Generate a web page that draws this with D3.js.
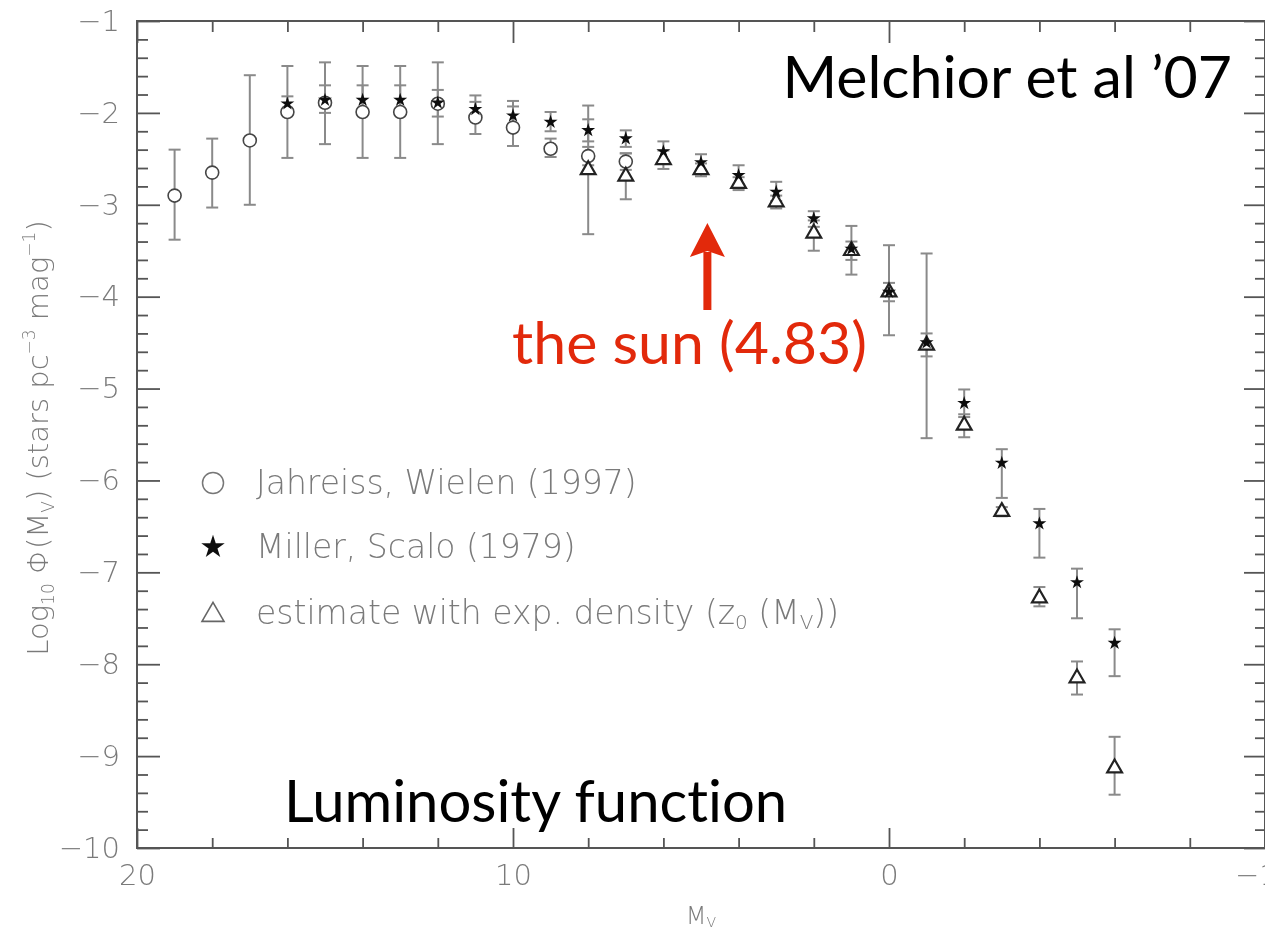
<!DOCTYPE html>
<html>
<head>
<meta charset="utf-8">
<script src="https://cdn.jsdelivr.net/npm/d3@7/dist/d3.min.js"></script>
<style>
  html, body { margin: 0; padding: 0; background: #fff; }
  svg { display: block; }
  .plotfont { font-family: "DejaVu Sans", sans-serif; font-weight: 200; }
  .slide { font-family: "Gill Sans", Lato, sans-serif; font-variant-ligatures: none; font-feature-settings: "liga" 0; }
</style>
</head>
<body>
<svg id="chart" width="1265" height="935"></svg>
<script>
// Absolute visual magnitude bins and log10 luminosity function, per source
const jwMag = [19, 18, 17, 16, 15, 14, 13, 12, 11, 10, 9, 8, 7];
const jwLog = [-2.90, -2.65, -2.30, -1.99, -1.89, -1.99, -1.99, -1.90, -2.05, -2.16, -2.39, -2.47, -2.53];
const jwHi  = [-2.40, -2.28, -1.59, -1.49, -1.45, -1.49, -1.49, -1.45, -1.81, -1.87, -2.28, -2.37, -2.44];
const jwLo  = [-3.38, -3.03, -3.00, -2.49, -2.34, -2.49, -2.49, -2.34, -2.23, -2.36, -2.48, -2.57, -2.62];

const msMag = [16, 15, 14, 13, 12, 11, 10, 9, 8, 7, 6, 5, 4, 3, 2, 1, 0, -1, -2, -3, -4, -5, -6];
const msLog = [-1.90, -1.86, -1.86, -1.86, -1.89, -1.96, -2.03, -2.10, -2.19, -2.28, -2.42, -2.54, -2.68, -2.86, -3.15, -3.48, -3.95, -4.50, -5.16, -5.81, -6.47, -7.11, -7.77];
const msHi  = [-1.82, -1.70, -1.70, -1.70, -1.75, -1.88, -1.93, -1.99, -2.07, -2.19, -2.31, -2.45, -2.57, -2.75, -3.07, -3.23, -3.44, -3.53, -5.01, -5.66, -6.31, -6.96, -7.62];
const msLo  = [-1.98, -2.00, -2.00, -2.00, -2.04, -2.04, -2.12, -2.20, -2.31, -2.37, -2.52, -2.62, -2.78, -2.96, -3.24, -3.76, -4.42, -5.54, -5.31, -6.19, -6.84, -7.50, -8.13];

const exMag = [8, 7, 6, 5, 4, 3, 2, 1, 0, -1, -2, -3, -4, -5, -6];
const exLog = [-2.62, -2.69, -2.51, -2.62, -2.77, -2.97, -3.31, -3.50, -3.95, -4.53, -5.40, -6.34, -7.28, -8.15, -9.13];
const exHi  = [-1.92, -2.44, -2.41, -2.55, -2.70, -2.90, -3.17, -3.40, -3.85, -4.40, -5.28, -6.29, -7.16, -7.97, -8.79];
const exLo  = [-3.32, -2.94, -2.61, -2.69, -2.84, -3.04, -3.50, -3.60, -4.05, -4.65, -5.53, -6.39, -7.37, -8.33, -9.42];

// Axis ticks
const xMajor = [20, 10, 0, -10];
const xMinor = [18, 16, 14, 12, 8, 6, 4, 2, -2, -4, -6, -8];
const yMajor = [-1, -2, -3, -4, -5, -6, -7, -8, -9, -10];
const yMinor = d3.range(-10, -1, 0.2).map(v => +v.toFixed(1)).filter(v => !Number.isInteger(v));

// Legend entries
const legendLabels = ["Jahreiss, Wielen (1997)", "Miller, Scalo (1979)", "estimate with exp. density"];
const sunMag = 4.83;

const svg = d3.select("#chart");
const plotLeft = 137, plotRight = 1265, plotTop = 21, plotBottom = 848;

const x = d3.scaleLinear().domain([20, -10]).range([plotLeft, plotRight]);
const y = d3.scaleLinear().domain([-1, -10]).range([plotTop, plotBottom]);

const defs = svg.append("defs");
defs.append("filter").attr("id", "soft")
  .attr("x", "-5%").attr("y", "-5%").attr("width", "110%").attr("height", "110%")
  .append("feGaussianBlur").attr("stdDeviation", 0.6);

const plot = svg.append("g").attr("class", "plotfont").attr("filter", "url(#soft)");

const axisColor = "#555";
const labelColor = "#7a7a7a";
const fmt = d => d3.format("d")(d);

// frame
plot.append("rect")
  .attr("x", plotLeft).attr("y", plotTop)
  .attr("width", plotRight - plotLeft).attr("height", plotBottom - plotTop)
  .attr("fill", "none").attr("stroke", axisColor).attr("stroke-width", 2);

function styleAxis(g) {
  g.select(".domain").remove();
  g.selectAll(".tick line").attr("stroke", axisColor).attr("stroke-width", 1.8);
  g.selectAll(".tick text").attr("fill", labelColor).attr("font-size", 29)
    .attr("font-family", "DejaVu Sans, sans-serif").attr("font-weight", 200);
}

// left axis
plot.append("g").attr("transform", `translate(${plotLeft},0)`)
  .call(d3.axisLeft(y).tickValues(yMajor).tickSizeInner(-23).tickSizeOuter(0).tickPadding(17).tickFormat(fmt))
  .call(styleAxis);
plot.append("g").attr("transform", `translate(${plotLeft},0)`)
  .call(d3.axisLeft(y).tickValues(yMinor).tickSizeInner(-11).tickSizeOuter(0).tickFormat(""))
  .call(styleAxis);
// right axis
plot.append("g").attr("transform", `translate(${plotRight},0)`)
  .call(d3.axisRight(y).tickValues(yMajor).tickSizeInner(-21).tickSizeOuter(0).tickFormat(""))
  .call(styleAxis);
plot.append("g").attr("transform", `translate(${plotRight},0)`)
  .call(d3.axisRight(y).tickValues(yMinor).tickSizeInner(-10).tickSizeOuter(0).tickFormat(""))
  .call(styleAxis);
// bottom axis
plot.append("g").attr("transform", `translate(0,${plotBottom})`)
  .call(d3.axisBottom(x).tickValues(xMajor).tickSizeInner(-20).tickSizeOuter(0).tickPadding(16).tickFormat(fmt))
  .call(styleAxis);
plot.append("g").attr("transform", `translate(0,${plotBottom})`)
  .call(d3.axisBottom(x).tickValues(xMinor).tickSizeInner(-10).tickSizeOuter(0).tickFormat(""))
  .call(styleAxis);
// top axis
plot.append("g").attr("transform", `translate(0,${plotTop})`)
  .call(d3.axisTop(x).tickValues(xMajor).tickSizeInner(-22).tickSizeOuter(0).tickFormat(""))
  .call(styleAxis);
plot.append("g").attr("transform", `translate(0,${plotTop})`)
  .call(d3.axisTop(x).tickValues(xMinor).tickSizeInner(-11).tickSizeOuter(0).tickFormat(""))
  .call(styleAxis);

// axis titles
const yTitle = plot.append("text")
  .attr("transform", `translate(48,438) rotate(-90)`)
  .attr("text-anchor", "middle").attr("fill", labelColor).attr("font-size", 29);
yTitle.append("tspan").text("Log");
yTitle.append("tspan").attr("font-size", 17).attr("dy", 6).text("10");
yTitle.append("tspan").attr("dy", -6).text(" \u03A6(M");
yTitle.append("tspan").attr("font-size", 17).attr("dy", 6).text("V");
yTitle.append("tspan").attr("dy", -6).text(") (stars pc");
yTitle.append("tspan").attr("font-size", 17).attr("dy", -13).text("\u22123");
yTitle.append("tspan").attr("dy", 13).text(" mag");
yTitle.append("tspan").attr("font-size", 17).attr("dy", -13).text("\u22121");
yTitle.append("tspan").attr("dy", 13).text(")");

const xTitle = plot.append("text")
  .attr("x", (plotLeft + plotRight) / 2).attr("y", 924)
  .attr("text-anchor", "middle").attr("fill", labelColor).attr("font-size", 24);
xTitle.append("tspan").text("M");
xTitle.append("tspan").attr("font-size", 14).attr("dy", 3).text("V");

// error bars
const barColor = "#8a8a8a";
const cap = 6;
function errorBars(mags, hi, lo) {
  const g = plot.append("g").attr("stroke", barColor).attr("stroke-width", 2).attr("fill", "none");
  mags.forEach((m, i) => {
    const cx = x(m), y1 = y(hi[i]), y2 = y(lo[i]);
    g.append("line").attr("x1", cx).attr("x2", cx).attr("y1", y1).attr("y2", y2);
    g.append("line").attr("x1", cx - cap).attr("x2", cx + cap).attr("y1", y1).attr("y2", y1);
    g.append("line").attr("x1", cx - cap).attr("x2", cx + cap).attr("y1", y2).attr("y2", y2);
  });
}
errorBars(jwMag, jwHi, jwLo);
errorBars(exMag, exHi, exLo);
errorBars(msMag, msHi, msLo);

// markers
const circlePts = jwMag.map((m, i) => [m, jwLog[i]]);
const triPts = exMag.map((m, i) => [m, exLog[i]]);
const starPts = msMag.map((m, i) => [m, msLog[i]]);

plot.append("g").selectAll("circle").data(circlePts).join("circle")
  .attr("cx", d => x(d[0])).attr("cy", d => y(d[1])).attr("r", 6.5)
  .attr("fill", "#fff").attr("stroke", "#444").attr("stroke-width", 1.6);

const triPath = d3.symbol(d3.symbolTriangle, 95)();
plot.append("g").selectAll("path").data(triPts).join("path")
  .attr("transform", d => `translate(${x(d[0])},${y(d[1])})`)
  .attr("d", triPath).attr("fill", "#fff").attr("stroke", "#222").attr("stroke-width", 2.2);

const starPath = d3.symbol(d3.symbolStar, 60)();
plot.append("g").selectAll("path").data(starPts).join("path")
  .attr("transform", d => `translate(${x(d[0])},${y(d[1])})`)
  .attr("d", starPath).attr("fill", "#111");

// legend
const legX = 213, legTextX = 256;
const legRows = [483, 547, 613];
const leg = plot.append("g");
leg.append("circle").attr("cx", legX).attr("cy", legRows[0]).attr("r", 10.5)
  .attr("fill", "none").attr("stroke", "#777").attr("stroke-width", 1.5);
leg.append("path").attr("transform", `translate(${legX},${legRows[1]})`)
  .attr("d", d3.symbol(d3.symbolStar, 170)()).attr("fill", "#111");
leg.append("path").attr("transform", `translate(${legX},${legRows[2] + 2})`)
  .attr("d", d3.symbol(d3.symbolTriangle, 210)()).attr("fill", "none").attr("stroke", "#666").attr("stroke-width", 1.6);

legendLabels.forEach((t, i) => {
  const txt = leg.append("text").attr("x", legTextX).attr("y", legRows[i] + 11)
    .attr("fill", labelColor).attr("font-size", 33).text(t);
  if (i === 2) {
    txt.append("tspan").text(" (z");
    txt.append("tspan").attr("font-size", 20).attr("dy", 5).text("0");
    txt.append("tspan").attr("dy", -5).text(" (M");
    txt.append("tspan").attr("font-size", 20).attr("dy", 5).text("V");
    txt.append("tspan").attr("dy", -5).text("))");
  }
});

// slide annotations
const notes = svg.append("g").attr("class", "slide");
notes.append("text").attr("x", 1232).attr("y", 98).attr("text-anchor", "end")
  .attr("font-size", 59).attr("fill", "#000").text("Melchior et al \u201907");
notes.append("text").attr("x", 284).attr("y", 822)
  .attr("font-size", 58).attr("fill", "#000").text("Luminosity function");

const red = "#e2290b";
notes.append("text").attr("x", 867).attr("y", 364).attr("text-anchor", "end")
  .attr("font-size", 59).attr("fill", red).text("the sun (4.83)");

// arrow pointing at the sun's magnitude
const ax = x(sunMag);
notes.append("line").attr("x1", ax).attr("x2", ax).attr("y1", 310).attr("y2", 252)
  .attr("stroke", red).attr("stroke-width", 8);
notes.append("path")
  .attr("d", `M${ax},223 L${ax + 17.5},257 L${ax},251 L${ax - 17.5},257 Z`)
  .attr("fill", red);
</script>
</body>
</html>
